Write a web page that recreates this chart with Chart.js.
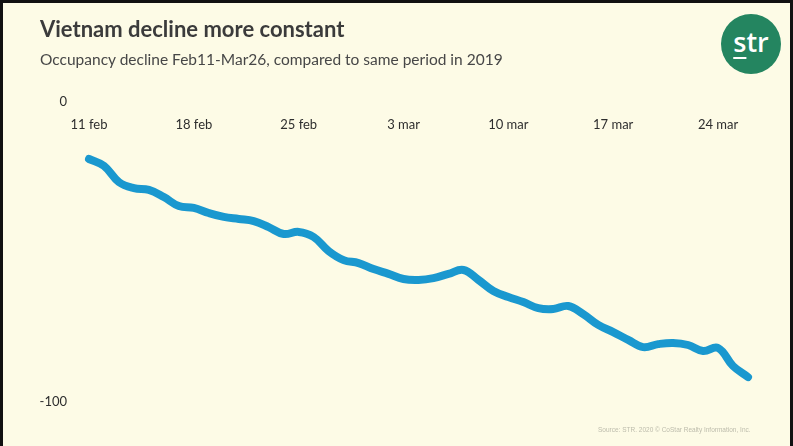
<!DOCTYPE html>
<html>
<head>
<meta charset="utf-8">
<script src="https://cdn.jsdelivr.net/npm/chart.js"></script>
<style>
  body { margin: 0; background: #fdfbe6; }
  #page { position: relative; width: 793px; height: 446px; overflow: hidden; background: #fdfbe6; }
  #frame { position: absolute; left: 0; top: 0; width: 793px; height: 446px; box-sizing: border-box;
           border-top: 3px solid #111; border-left: 3px solid #111; border-right: 3px solid #111; pointer-events: none; }
  canvas { position: absolute; left: 0; top: 0; }
  .title { position: absolute; left: 40px; top: 15px; font-family: Lato, sans-serif; font-weight: bold;
           font-size: 22px; color: #3b3b3b; white-space: nowrap; }
  .subtitle { position: absolute; left: 40px; top: 50px; font-family: Lato, sans-serif;
              font-size: 15.5px; color: #474747; white-space: nowrap; }
  .logo { position: absolute; left: 721px; top: 14px; width: 60px; height: 60px; border-radius: 50%;
          background: #248560; color: #fff; font-family: "Open Sans", sans-serif; font-weight: 600; font-size: 27px;
          text-align: center; line-height: 56px; }
  .logo span { text-decoration: underline; text-decoration-thickness: 2px; text-underline-offset: 5px; }
  .source { position: absolute; left: 598px; top: 426px; font-family: "Liberation Sans", sans-serif;
            font-size: 6.5px; color: #bdbcac; white-space: nowrap; }
</style>
</head>
<body>
<div id="page">
  <canvas id="occChart" width="793" height="446"></canvas>
  <div class="title">Vietnam decline more constant</div>
  <div class="subtitle">Occupancy decline Feb11-Mar26, compared to same period in 2019</div>
  <div class="logo"><span>s</span>tr</div>
  <div class="source">Source: STR. 2020 © CoStar Realty Information, Inc.</div>
  <div id="frame"></div>
</div>
<script>
// days Feb 11 - Mar 26
const days = [
    '11 feb', '12 feb', '13 feb', '14 feb', '15 feb', '16 feb', '17 feb',
    '18 feb', '19 feb', '20 feb', '21 feb', '22 feb', '23 feb', '24 feb',
    '25 feb', '26 feb', '27 feb', '28 feb', '29 feb', '1 mar', '2 mar',
    '3 mar', '4 mar', '5 mar', '6 mar', '7 mar', '8 mar', '9 mar',
    '10 mar', '11 mar', '12 mar', '13 mar', '14 mar', '15 mar', '16 mar',
    '17 mar', '18 mar', '19 mar', '20 mar', '21 mar', '22 mar', '23 mar',
    '24 mar', '25 mar', '26 mar'
];

// occupancy change vs 2019 (%)
const occupancyDecline = [
    -19.0, -21.3, -26.7, -28.7, -29.3, -31.7, -34.7,
    -35.3, -37.0, -38.3, -39.0, -39.7, -41.7, -44.0,
    -43.3, -45.0, -49.7, -52.7, -53.7, -55.7, -57.3,
    -59.0, -59.3, -58.7, -57.3, -56.0, -59.3, -63.0,
    -65.0, -66.7, -68.7, -69.0, -68.0, -70.7, -74.3,
    -76.7, -79.3, -81.7, -80.7, -80.3, -81.0, -83.0,
    -82.0, -88.0, -91.7
];

// x labels that are shown
const weekTicks = ['11 feb', '18 feb', '25 feb', '3 mar', '10 mar', '17 mar', '24 mar'];

const yMin = -100;
const yMax = 0;

const chart1 = document.getElementById('occChart');

new Chart(chart1, {
    type: 'line',
    data: {
        labels: days,
        datasets: [{
            data: occupancyDecline,
            borderColor: '#1a98cf',
            borderWidth: 8,
            borderCapStyle: 'round',
            borderJoinStyle: 'round',
            tension: 0.4,
            pointRadius: 0,
            fill: false,
            clip: false
        }]
    },
    options: {
        responsive: false,
        animation: false,
        layout: {
            padding: { left: 0, top: 102, right: 45, bottom: 44 }
        },
        plugins: {
            legend: { display: false },
            tooltip: { enabled: false }
        },
        scales: {
            x: {
                type: 'category',
                position: { y: 0 },
                grid: { display: false, drawTicks: false },
                border: { display: false },
                ticks: {
                    autoSkip: false,
                    maxRotation: 0,
                    padding: 15,
                    color: '#2e2e2e',
                    font: { family: 'Lato', size: 13 },
                    callback: function (value, index) {
                        const lbl = days[index];
                        return weekTicks.includes(lbl) ? lbl : null;
                    }
                }
            },
            y: {
                min: yMin,
                max: yMax,
                afterFit: function (scale) { scale.width = 89; },
                grid: { display: false, drawTicks: false },
                border: { display: false },
                ticks: {
                    stepSize: 100,
                    padding: 22,
                    color: '#2e2e2e',
                    font: { family: 'Lato', size: 13 }
                }
            }
        }
    }
});
</script>
</body>
</html>
